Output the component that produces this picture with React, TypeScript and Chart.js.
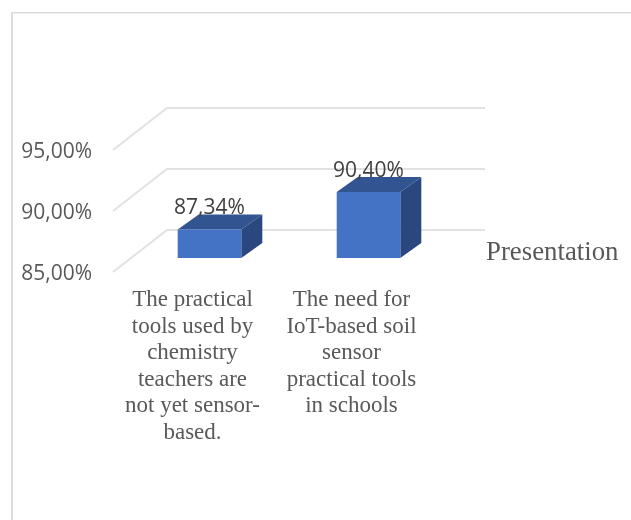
import { useEffect, useRef } from "react";
import { Chart, registerables } from "chart.js";

Chart.register(...registerables);

const categories = [
  ["The practical", "tools used by", "chemistry", "teachers are", "not yet sensor-", "based."],
  ["The need for", "IoT-based soil", "sensor", "practical tools", "in schools"],
];
const seriesName = "Presentation";
const seriesValues = [87.34, 90.4];
const axisMin = 85;
const axisMax = 95;
const axisStep = 5;

const SANS = '"Open Sans", "Noto Sans", sans-serif';
const SERIF = '"Liberation Serif", serif';

// Oblique projection of the floor: back wall offset and the bars' place in the depth.
const WALL_DX = 54;
const WALL_DY = 42;
const BAR_DX = 17;
const BAR_DY = 14;
const BAR_DEPTH_X = 21;
const BAR_DEPTH_Y = 15;

const percent = (v: number) => v.toFixed(2).replace(".", ",") + "%";

const framePlugin = {
  id: "frame",
  beforeDraw(chart: any) {
    const { ctx, width, height } = chart;
    ctx.save();
    ctx.fillStyle = "#dcdcdc";
    ctx.fillRect(11, 12, 2, height - 12);
    ctx.fillRect(11, 12, width - 11, 1.5);
    ctx.restore();
  },
};

const wallPlugin = {
  id: "wall",
  beforeDatasetsDraw(chart: any) {
    const { ctx, chartArea, scales } = chart;
    ctx.save();
    ctx.strokeStyle = "#e2e2e2";
    ctx.lineWidth = 2;
    for (const tick of scales.y.ticks) {
      const y = scales.y.getPixelForValue(tick.value);
      ctx.beginPath();
      ctx.moveTo(chartArea.left, y);
      ctx.lineTo(chartArea.left + WALL_DX, y - WALL_DY);
      ctx.lineTo(chartArea.right + WALL_DX, y - WALL_DY);
      ctx.stroke();
    }
    ctx.restore();
  },
};

// Extrudes each bar: side and top faces first, then the library's own rectangle shifted into the depth.
const extrudePlugin = {
  id: "extrude",
  beforeDatasetDraw(chart: any, args: any) {
    const { ctx } = chart;
    ctx.save();
    for (const bar of args.meta.data) {
      const left = bar.x - bar.width / 2 + BAR_DX;
      const right = bar.x + bar.width / 2 + BAR_DX;
      const top = bar.y - BAR_DY;
      const bottom = bar.base - BAR_DY;
      ctx.fillStyle = "#2b4780";
      ctx.beginPath();
      ctx.moveTo(right, top);
      ctx.lineTo(right + BAR_DEPTH_X, top - BAR_DEPTH_Y);
      ctx.lineTo(right + BAR_DEPTH_X, bottom - BAR_DEPTH_Y);
      ctx.lineTo(right, bottom);
      ctx.closePath();
      ctx.fill();
      ctx.fillStyle = "#325591";
      ctx.beginPath();
      ctx.moveTo(left, top);
      ctx.lineTo(left + BAR_DEPTH_X, top - BAR_DEPTH_Y);
      ctx.lineTo(right + BAR_DEPTH_X, top - BAR_DEPTH_Y);
      ctx.lineTo(right, top);
      ctx.closePath();
      ctx.fill();
    }
    ctx.translate(BAR_DX, -BAR_DY);
  },
  afterDatasetDraw(chart: any) {
    chart.ctx.restore();
  },
  afterDatasetsDraw(chart: any) {
    const { ctx, chartArea, scales } = chart;
    const meta = chart.getDatasetMeta(0);
    ctx.save();
    ctx.textAlign = "center";
    ctx.textBaseline = "middle";
    ctx.font = `21px ${SANS}`;
    ctx.fillStyle = "#404040";
    meta.data.forEach((bar: any, i: number) => {
      ctx.fillText(percent(seriesValues[i]), bar.x + BAR_DX, bar.y - BAR_DY - 21.5);
    });
    ctx.textAlign = "left";
    ctx.font = `26.8px ${SERIF}`;
    ctx.fillStyle = "#595959";
    ctx.fillText(chart.data.datasets[0].label, chartArea.right + 55, scales.y.getPixelForValue(axisMin) - 19);
    ctx.restore();
  },
};

export default function App() {
  const ref = useRef<HTMLCanvasElement>(null);

  useEffect(() => {
    const chart = new Chart(ref.current!, {
      type: "bar",
      data: {
        labels: categories,
        datasets: [
          {
            label: seriesName,
            data: seriesValues,
            base: axisMin,
            backgroundColor: "#4472c4",
            barPercentage: 0.4,
            categoryPercentage: 1,
          },
        ],
      },
      options: {
        responsive: false,
        animation: false,
        devicePixelRatio: 1,
        layout: { padding: { top: 150, right: 200, left: 0, bottom: 0 } },
        plugins: { legend: { display: false }, title: { display: false }, tooltip: { enabled: false } },
        scales: {
          x: {
            grid: { display: false },
            border: { display: false },
            afterFit: (s: any) => {
              s.height = 248;
            },
            ticks: {
              autoSkip: false,
              maxRotation: 0,
              minRotation: 0,
              padding: 7,
              color: "#595959",
              font: { family: SERIF, size: 23, lineHeight: "26.5px" },
            },
          },
          y: {
            min: axisMin,
            max: axisMax,
            grid: { display: false, drawTicks: false },
            border: { display: false },
            afterFit: (s: any) => {
              s.width = 113;
            },
            ticks: {
              stepSize: axisStep,
              padding: 21,
              labelOffset: 2.5,
              color: "#595959",
              font: { family: SANS, size: 21 },
              callback: (v: any) => percent(Number(v)),
            },
          },
        },
      },
      plugins: [framePlugin, wallPlugin, extrudePlugin],
    } as any);
    return () => chart.destroy();
  }, []);

  return (
    <div style={{ position: "fixed", left: 0, top: 0, width: 631, height: 520, background: "#ffffff" }}>
      <canvas ref={ref} width={631} height={520} style={{ display: "block" }} />
    </div>
  );
}
